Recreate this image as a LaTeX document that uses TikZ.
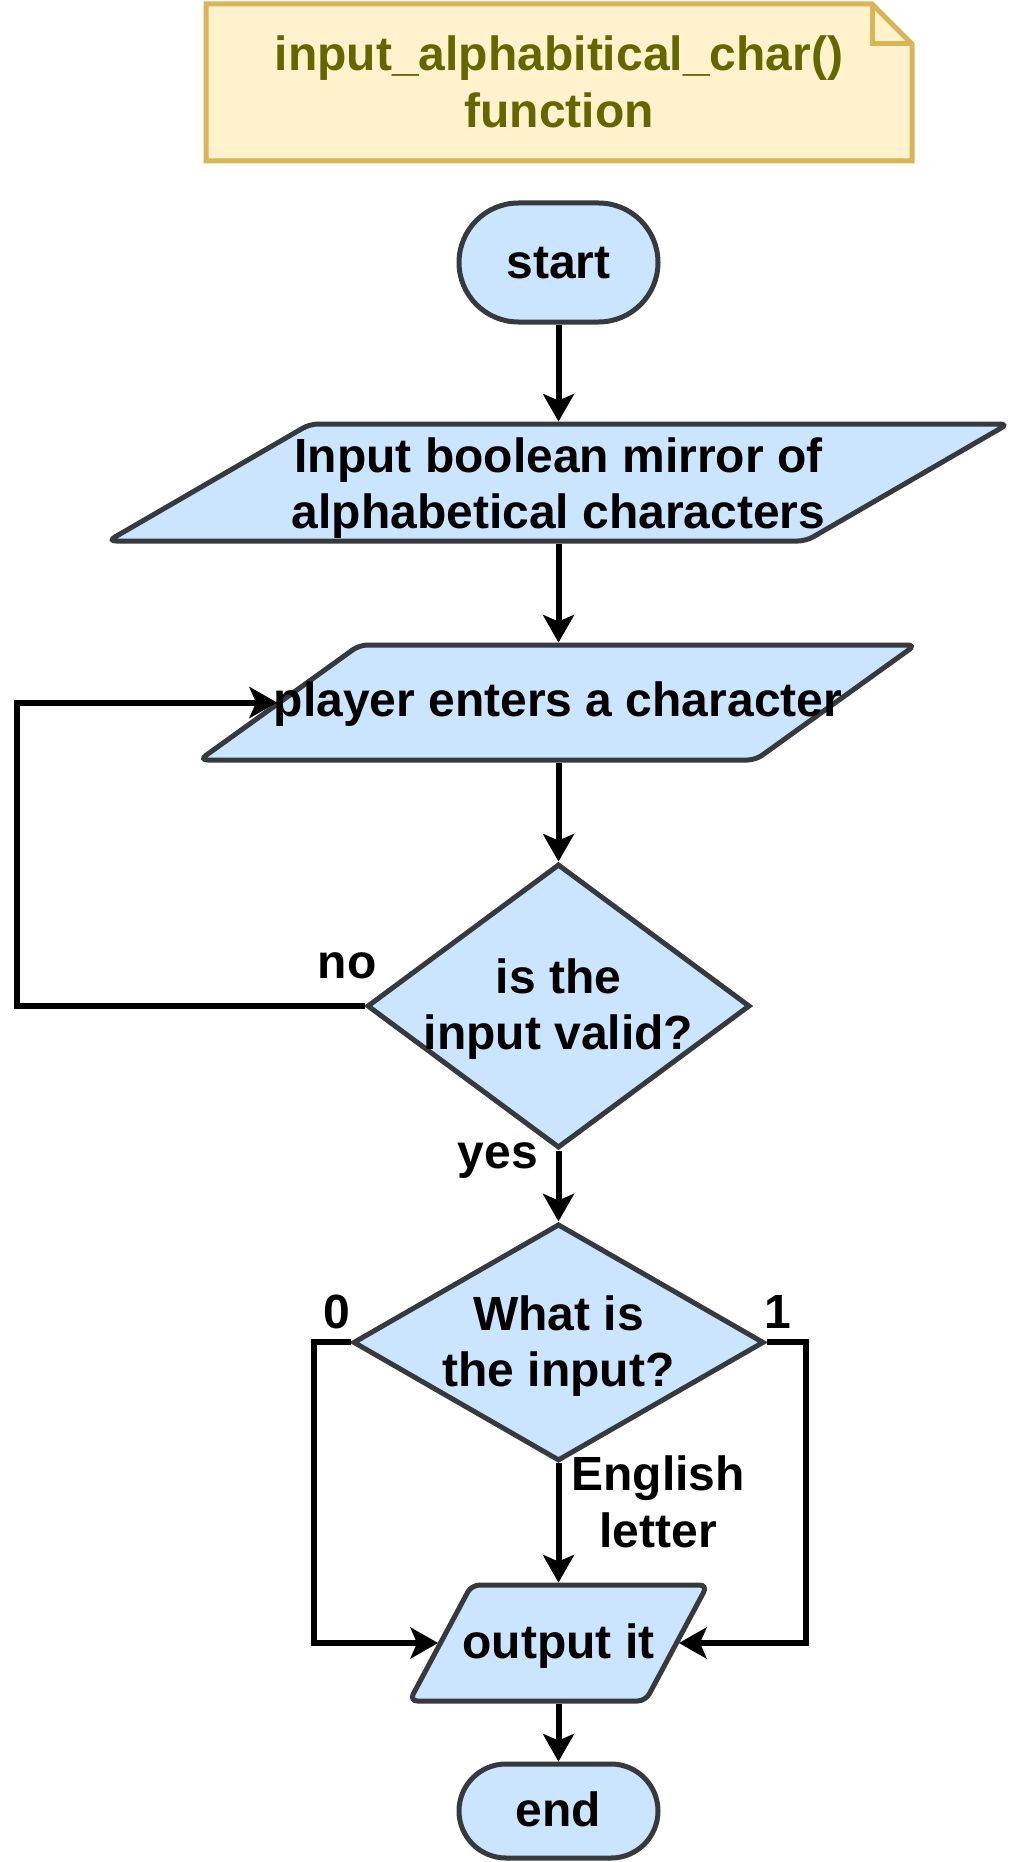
\documentclass[tikz,border=0pt]{standalone}
\usepackage{fontspec}
\setmainfont{Liberation Sans}
\usetikzlibrary{shapes.geometric,arrows.meta,calc}
\definecolor{fillb}{HTML}{CCE5FF}
\definecolor{strk}{HTML}{36393D}
\definecolor{notefill}{HTML}{FFF2CC}
\definecolor{notestroke}{HTML}{D6B656}
\definecolor{notetext}{HTML}{666600}
\newcommand\iopath[4]{%
  \draw[shp, rounded corners=8pt]
    ($(#1.center)+(-#2+#3,-#4)$) -- ($(#1.center)+(#2+#3,-#4)$) --
    ($(#1.center)+(#2-#3,#4)$) -- ($(#1.center)+(-#2-#3,#4)$) -- cycle;}
\newcommand\twol[2]{\begin{tabular}[t]{@{}c@{}}#1\\#2\end{tabular}}
\begin{document}
\begin{tikzpicture}[x=1pt,y=-1pt,
  shp/.style={draw=strk, fill=fillb, line width=5pt},
  term/.style={shp, rectangle, inner sep=0pt},
  dia/.style={shp, diamond, inner sep=0pt},
  iobody/.style={rectangle, draw=none, inner sep=0pt, outer sep=2.5pt},
  txt/.style={font=\fontsize{48}{56.5}\selectfont\bfseries, anchor=base, inner sep=0pt, text=black},
  conn/.style={draw=black, line width=6pt,
    -{Stealth[length=28pt,width=32pt,inset=7pt,line width=0pt]}},
]
\path[use as bounding box] (0,0) rectangle (1010,1862);

% note
\draw[line width=5pt, draw=notestroke, fill=notefill]
  (206,4) -- (872,4) -- (912,44) -- (912,161) -- (206,161) -- cycle;
\draw[line width=5pt, draw=notestroke] (872,4) -- (872,44) -- (912,44);
\node[txt, text=notetext] (title) at (559,71) {\twol{input\_alphabitical\_char()}{function}};

% start
\node[term, minimum width=199pt, minimum height=119pt, rounded corners=59.5pt] (start) at (558.5,262.5) {};
\node[txt] (tstart) at (558.5,278) {start};

% input 1
\node[iobody, minimum width=698pt, minimum height=117pt] (p1) at (558,482.5) {};
\iopath{p1}{349}{101}{58.5}
\node[txt] (tp1) at (558.5,472) {\twol{Input boolean mirror of}{alphabetical characters}};

% input 2
\node[iobody, minimum width=556pt, minimum height=115pt] (p2) at (557.5,702.5) {};
\iopath{p2}{278}{80}{57.5}
\node[txt] (tp2) at (558,716.7) {player enters a character};

% decision 1
\node[dia, minimum width=383pt, minimum height=284pt] (d1) at (558.5,1006) {};
\node[txt] (td1) at (558.5,993) {\twol{is the}{input valid?}};

% decision 2
\node[dia, minimum width=411pt, minimum height=237pt] (d2) at (558.5,1342.4) {};
\node[txt] (td2) at (558.5,1330) {\twol{What is}{the input?}};

% output
\node[iobody, minimum width=236pt, minimum height=116pt] (o) at (558.5,1643) {};
\iopath{o}{118}{31}{58}
\node[txt] (to) at (558.5,1658) {output it};

% end
\node[term, minimum width=199pt, minimum height=94pt, rounded corners=47pt] (end) at (558.5,1811) {};
\node[txt] (tend) at (558.5,1826.7) {end};

% helper coordinates
\coordinate (lx) at (17,0);
\coordinate (lb) at (313.5,0);
\coordinate (rb) at (805.5,0);

% connectors
\draw[conn] (start.south) -- (start.south |- p1.north);
\draw[conn] (p1.south -| start.south) -- (start.south |- p2.north);
\draw[conn] (p2.south -| start.south) -- (d1.north);
\draw[conn] (d1.west) -- (d1.west -| lx) -- (p2.west -| lx) -- (p2.west);
\draw[conn] (d1.south) -- (d2.north);
\draw[conn] (d2.west) -- (d2.west -| lb) -- (o.west -| lb) -- (o.west);
\draw[conn] (d2.east) -- (d2.east -| rb) -- (o.east -| rb) -- (o.east);
\draw[conn] (d2.south) -- (o.north);
\draw[conn] (o.south) -- (end.north);

% labels
\node[txt] (lno) at (347,978) {no};
\node[txt] (lyes) at (498,1168) {yes};
\node[txt] (l0) at (336.7,1328) {0};
\node[txt] (l1) at (778,1328) {1};
\node[txt] (leng) at (658,1490.7) {\twol{English}{letter}};
\end{tikzpicture}
\end{document}
